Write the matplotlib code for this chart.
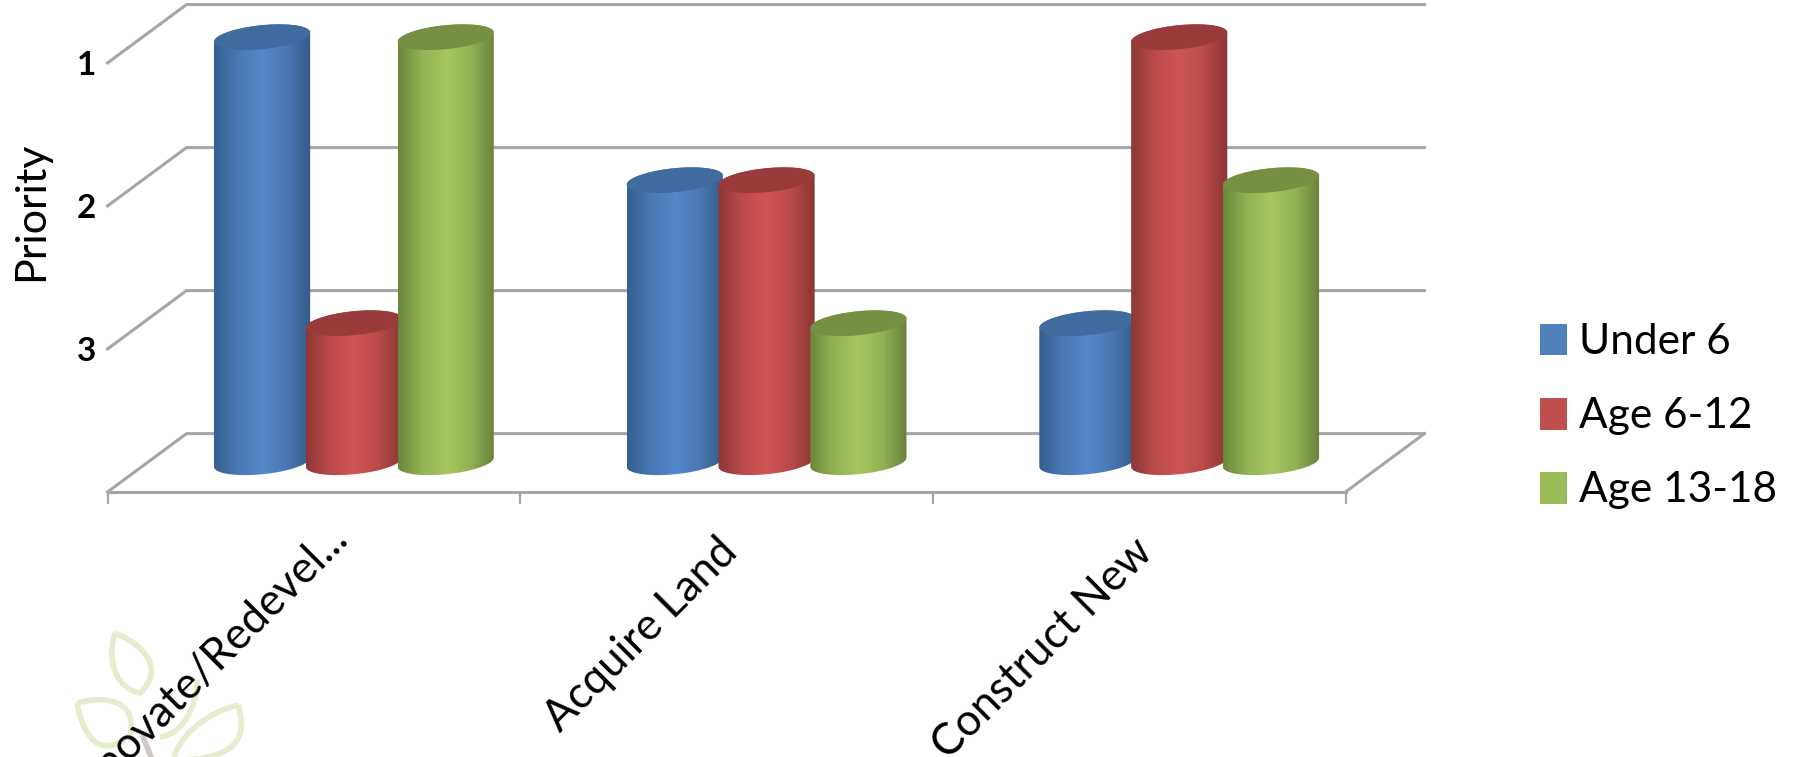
import numpy as np
import matplotlib
matplotlib.use("Agg")
import matplotlib.pyplot as plt
from matplotlib.colors import LinearSegmentedColormap
from matplotlib.patches import PathPatch, Patch
from matplotlib.path import Path
from matplotlib.transforms import ScaledTranslation

categories = ["Renovate/Redevel...", "Acquire Land", "Construct New"]
series_names = ["Under 6", "Age 6-12", "Age 13-18"]
under_6 = [1, 2, 3]
age_6_12 = [3, 2, 1]
age_13_18 = [1, 3, 2]
priority_ticks = [1, 2, 3]

W, H = 1794, 757
S = W / 1568  # reference shrink factor
GRID = "#a6a6a6"
plt.rcParams["font.family"] = ["Lato", "DejaVu Sans"]
fig = plt.figure(figsize=(W / 100, H / 100), dpi=100, facecolor="white")

# faint logo behind the chart (pixel coordinates)
deco = fig.add_axes([0, 0, 1, 1], zorder=0)
deco.set_xlim(0, W); deco.set_ylim(H, 0); deco.axis("off")
leaves = [
    [(115, 633), (105, 665), (120, 690), (140, 693), (160, 675), (155, 650), (115, 633)],
    [(77, 703), (85, 745), (105, 757), (130, 735), (138, 700), (105, 695), (77, 703)],
    [(238, 705), (200, 715), (178, 740), (173, 760), (247, 760), (245, 730), (238, 705)],
    [(197, 680), (197, 710), (180, 735), (160, 737)],
]
for pts in leaves:
    codes = [Path.MOVETO] + [Path.CURVE4] * (len(pts) - 1)
    n = (len(pts) - 1) // 3 * 3 + 1
    deco.add_patch(PathPatch(Path(pts[:n], codes[:n]), fc="none", ec="#e3eecd", lw=4))
deco.plot([143, 151], [737, 757], color="#cfc8c4", lw=4, solid_capstyle="round")

# main axes: the front plane of the 3-D box
x0, x1, y0, y1 = 94 * S, 1176 * S, 55 * S, 430 * S
ax = fig.add_axes([x0 / W, 1 - y1 / H, (x1 - x0) / W, (y1 - y0) / H], zorder=1)
ax.patch.set_alpha(0)
ax.set_autoscale_on(False)
XLIM, YLIM = (-0.5, 2.5), (4, 1)

DEPTH_X, DEPTH_Y = 0.1913, 0.408   # box depth in data units
BAR_DX = 0.097                     # bars stand mid-depth
TOP_DY, BASE_DY = 0.18, 0.208
STEP, HW = 0.2225, 0.1165          # series spacing, bar half width
SHEAR, MINOR = 0.032, 0.084        # tilt and height of the ellipses

# wall and floor lines
for v in [1, 2, 3, 4]:
    ax.plot([XLIM[0], XLIM[0] + DEPTH_X, XLIM[1] + DEPTH_X],
            [v, v - DEPTH_Y, v - DEPTH_Y], color=GRID, lw=2.2, clip_on=False, zorder=1)
ax.plot([XLIM[1], XLIM[1] + DEPTH_X], [4, 4 - DEPTH_Y], color=GRID, lw=2.2, clip_on=False, zorder=1)

shades = [
    (["#355f90", "#4a78b4", "#5588ca", "#4a78b2", "#345a88"], "#3f6b9f"),
    (["#8c3836", "#bb4b49", "#cf5654", "#b84a48", "#8a3735"], "#983b3a"),
    (["#6b873a", "#92b354", "#a7c660", "#92b354", "#68803a"], "#778f42"),
]


def ellipse(cx, cy, n=80):
    t = np.linspace(0, 2 * np.pi, n)
    return cx + HW * np.cos(t), cy - SHEAR * np.cos(t) + MINOR * np.sin(t)


z = 3
for s, values in enumerate([under_6, age_6_12, age_13_18]):
    colors, top_color = shades[s]
    cmap = LinearSegmentedColormap.from_list(series_names[s], colors)
    for c, v in enumerate(values):
        cx = c + BAR_DX + (s - 1) * STEP
        top, base = v - TOP_DY, 4 - BASE_DY
        t = np.linspace(0, np.pi, 50)
        # outline: far side of the top ellipse + lower arc of the base
        tx = cx - HW * np.cos(t)
        ty = top + SHEAR * np.cos(t) - MINOR * np.sin(t)
        bx = cx + HW * np.cos(t)
        by = base - SHEAR * np.cos(t) + MINOR * np.sin(t)
        verts = np.r_[np.c_[tx, ty], np.c_[bx, by], [[tx[0], ty[0]]]]
        outline = PathPatch(Path(verts), fc="none", ec="none", transform=ax.transData)
        ax.add_patch(outline)
        im = ax.imshow(np.linspace(0, 1, 256)[None, :], cmap=cmap, aspect="auto",
                       extent=(cx - HW, cx + HW, base + 0.2, top - 0.2),
                       zorder=z, interpolation="bilinear")
        im.set_clip_box(fig.bbox)
        im.set_clip_path(outline)
        ex, ey = ellipse(cx, top)
        ax.fill(ex, ey, color=top_color, lw=0, zorder=z + 0.5, clip_on=False)
        z += 1

ax.set_xlim(XLIM); ax.set_ylim(YLIM)

for name in ["top", "left", "right"]:
    ax.spines[name].set_visible(False)
ax.spines["bottom"].set_color(GRID)
ax.spines["bottom"].set_linewidth(2.2)

ax.set_yticks(priority_ticks)
ax.set_yticklabels([str(p) for p in priority_ticks], fontsize=24, fontweight="bold", color="black")
ax.tick_params(axis="y", length=0, pad=8)
ax.set_ylabel("Priority", fontsize=31, color="black")
ax.yaxis.set_label_coords(-0.046, 0.653)

ax.set_xticks([0, 1, 2])
ax.set_xticklabels(categories, rotation=45, ha="right", rotation_mode="anchor", fontsize=31.5, color="black")
ax.tick_params(axis="x", which="major", length=0, pad=28)
label_shift_x = [10, -9, -7]
label_shift_y = [13, 0, 0]
for lab, dx, dy in zip(ax.get_xticklabels(), label_shift_x, label_shift_y):
    lab.set_transform(lab.get_transform() + ScaledTranslation(dx * S / 100, dy * S / 100, fig.dpi_scale_trans))
ax.set_xticks([-0.5, 0.5, 1.5, 2.5], minor=True)
ax.tick_params(axis="x", which="minor", length=8.5, width=1.6, color=GRID)

handles = [Patch(fc=c, ec="none") for c in ["#4f81bd", "#c0504d", "#9bbb59"]]
leg = ax.legend(handles, series_names, loc="center left", frameon=False, fontsize=30.5,
                bbox_to_anchor=((1343 * S - 14 - x0) / (x1 - x0), (y1 - 364 * S) / (y1 - y0)),
                handlelength=0.65, handleheight=0.77, handletextpad=0.28,
                labelspacing=0.85, labelcolor="black", borderaxespad=0, borderpad=0.4)
fig.savefig("out.png", dpi=100, facecolor="white")
